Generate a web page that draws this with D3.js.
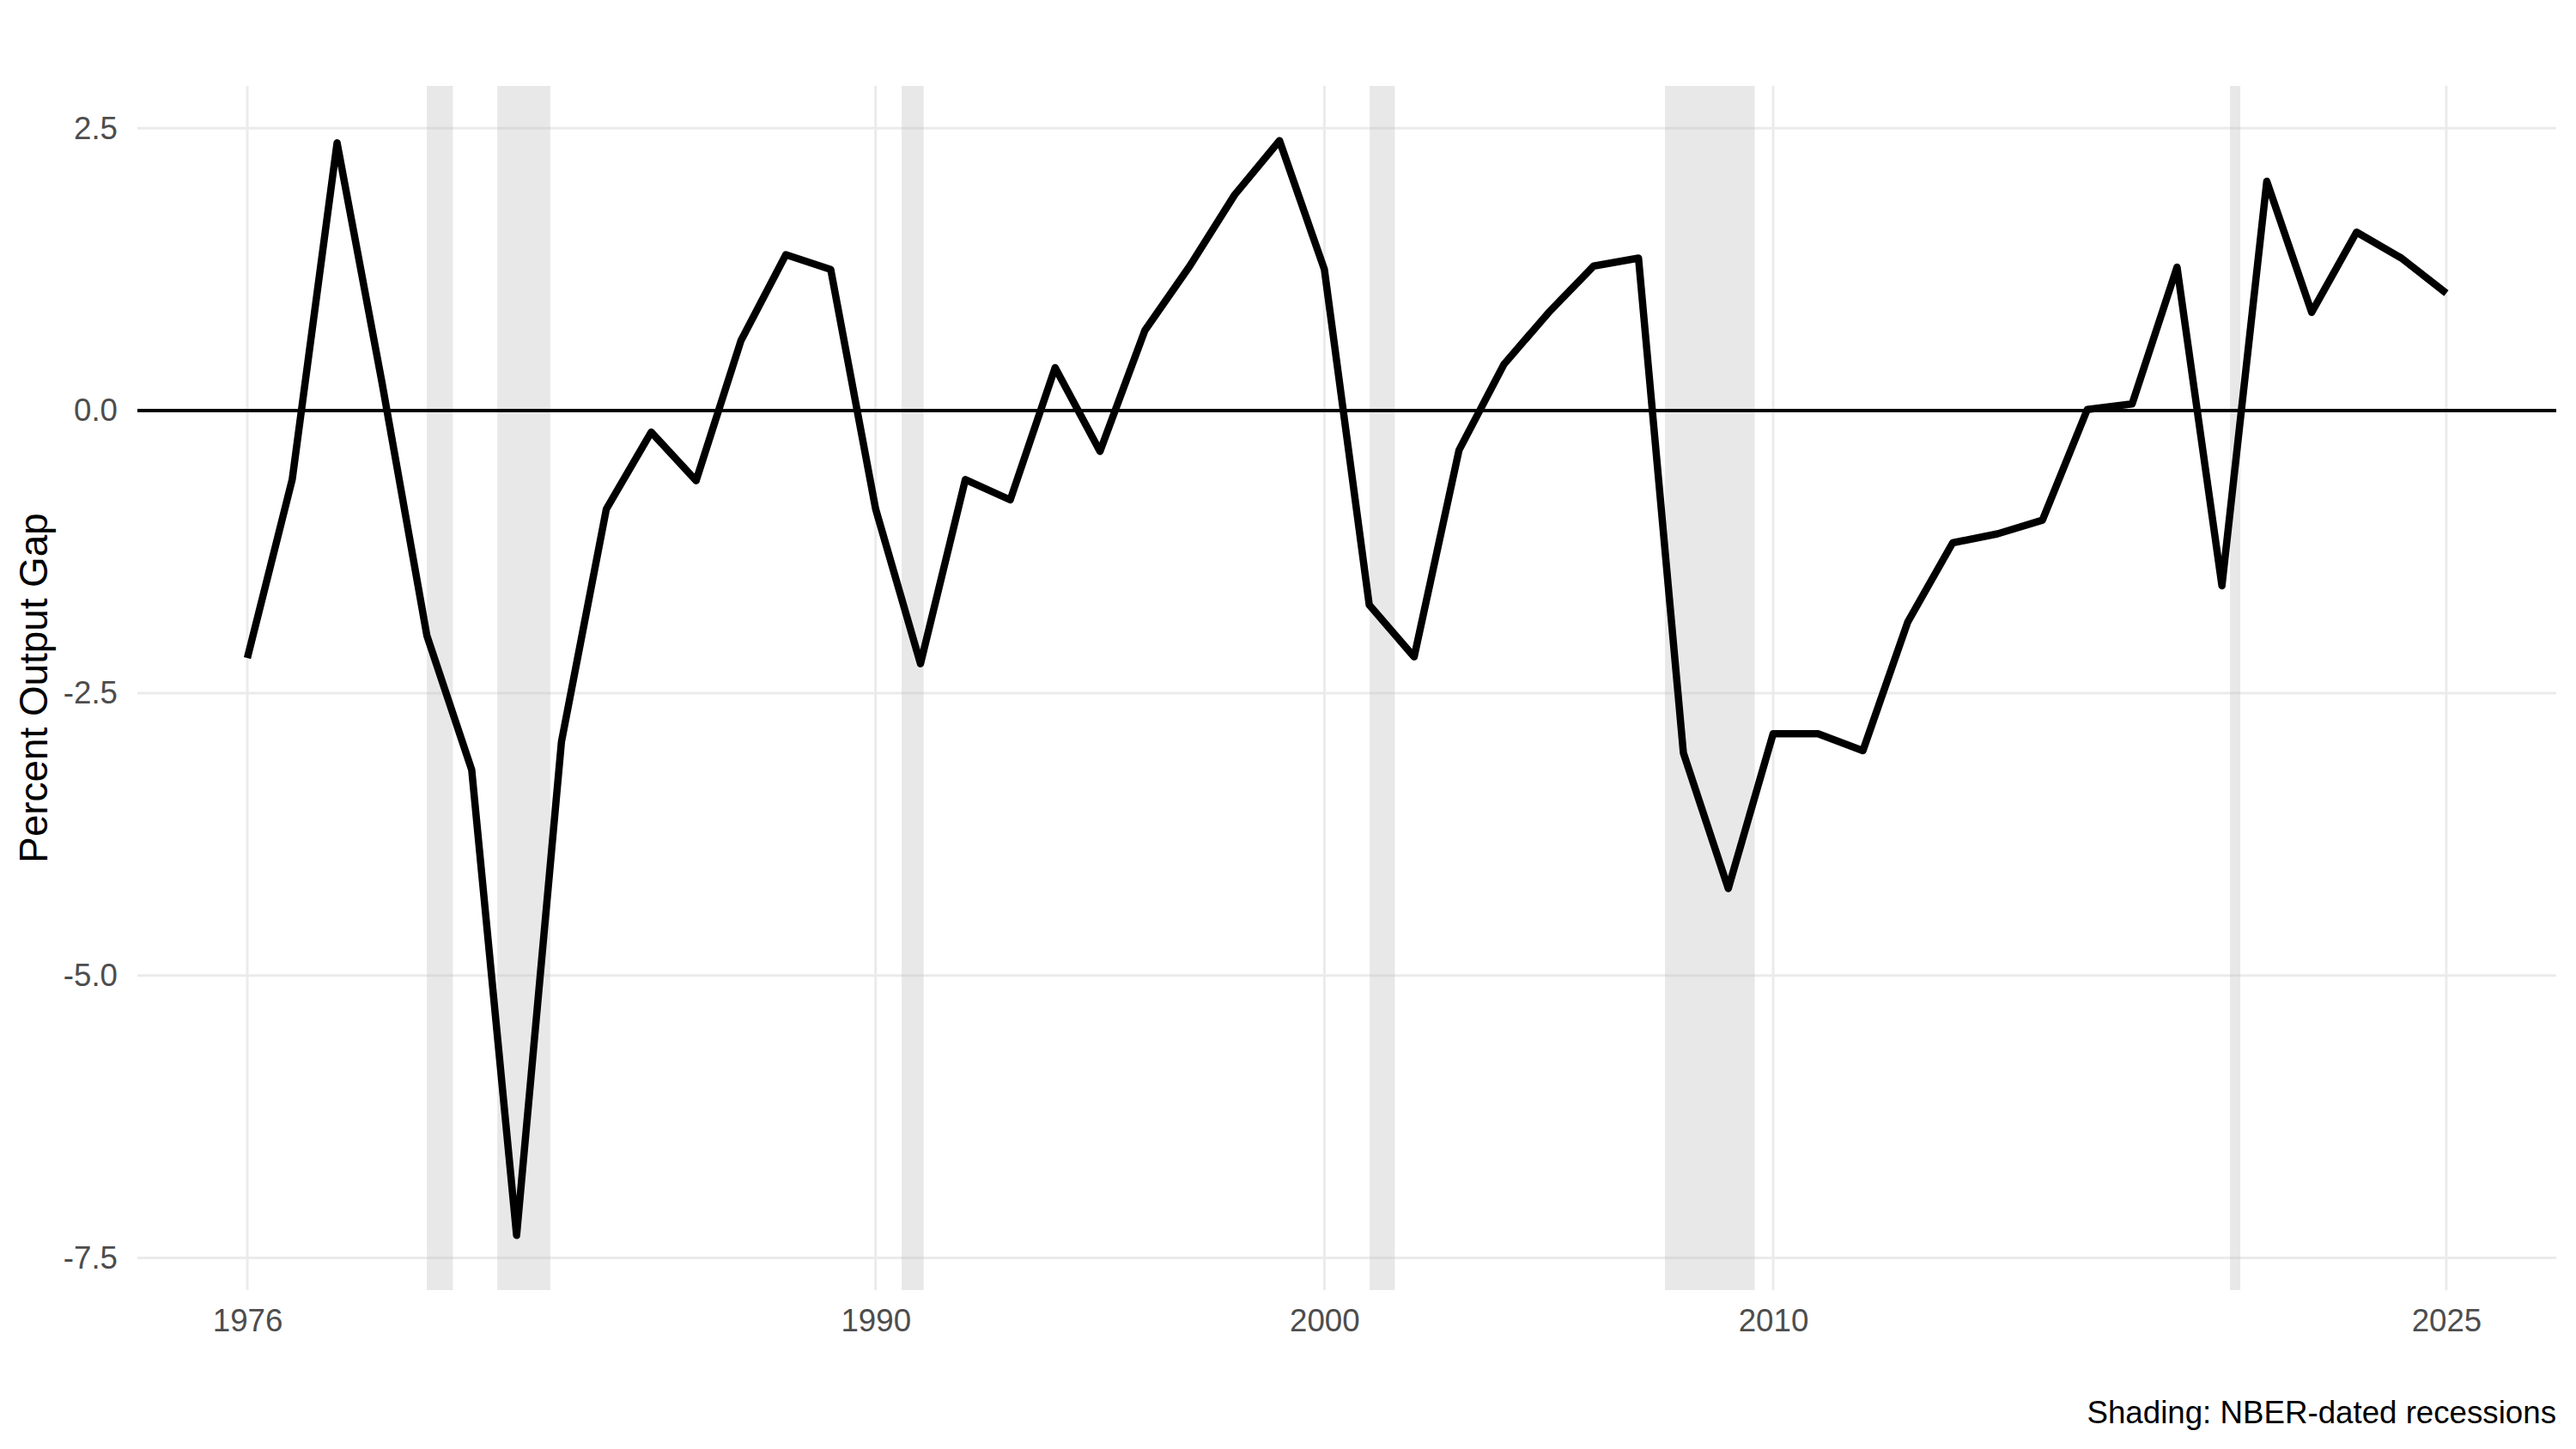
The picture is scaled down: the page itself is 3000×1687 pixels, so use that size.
<!DOCTYPE html>
<html>
<head>
<meta charset="utf-8">
<script src="https://cdn.jsdelivr.net/npm/d3@7"></script>
<style>
  body { margin: 0; background: #fff; }
  svg { display: block; font-family: "Liberation Sans", Arial, sans-serif; }
</style>
</head>
<body>
<svg id="chart"></svg>
<script>
// annual output gap, percent
const years = d3.range(1976, 2026);
const gap = [
  -2.19, -0.61, 2.37, 0.25, -1.99, -3.18, -7.30, -2.93, -0.87, -0.19,
  -0.62, 0.62, 1.38, 1.25, -0.87, -2.24, -0.61, -0.79, 0.38, -0.36,
  0.71, 1.28, 1.91, 2.39, 1.25, -1.72, -2.18, -0.35, 0.41, 0.87,
  1.28, 1.35, -3.03, -4.23, -2.86, -2.86, -3.01, -1.87, -1.17, -1.09,
  -0.97, 0.01, 0.06, 1.27, -1.55, 2.03, 0.87, 1.58, 1.35, 1.04
];

// NBER recessions, as decimal years
const recStart = [1980.0, 1981.57, 1990.58, 2001.01, 2007.59, 2020.18];
const recEnd   = [1980.58, 1982.75, 1991.07, 2001.57, 2009.59, 2020.41];

const xTicks = [1976, 1990, 2000, 2010, 2025];
const yTicks = [-7.5, -5.0, -2.5, 0.0, 2.5];

const width = 3000, height = 1687;
const margin = {top: 100, right: 23, bottom: 185, left: 160};

const svg = d3.select("#chart")
    .attr("width", width)
    .attr("height", height);

const data = years.map((y, i) => ({year: y, value: gap[i]}));

// ggplot-like 5% expansion
const expand = (ext) => {
    const pad = (ext[1] - ext[0]) * 0.05;
    return [ext[0] - pad, ext[1] + pad];
};

const x = d3.scaleLinear()
    .domain(expand(d3.extent(years)))
    .range([margin.left, width - margin.right]);

const y = d3.scaleLinear()
    .domain(expand(d3.extent(gap)))
    .range([height - margin.bottom, margin.top]);

const g = svg.append("g");

// grid
g.append("g")
    .selectAll("line")
    .data(yTicks)
    .join("line")
    .attr("x1", x.range()[0])
    .attr("x2", x.range()[1])
    .attr("y1", d => y(d))
    .attr("y2", d => y(d))
    .attr("stroke", "#EBEBEB")
    .attr("stroke-width", 3);

g.append("g")
    .selectAll("line")
    .data(xTicks)
    .join("line")
    .attr("x1", d => x(d))
    .attr("x2", d => x(d))
    .attr("y1", y.range()[0])
    .attr("y2", y.range()[1])
    .attr("stroke", "#EBEBEB")
    .attr("stroke-width", 3);

// recession shading
g.append("g")
    .selectAll("rect")
    .data(recStart.map((s, i) => [s, recEnd[i]]))
    .join("rect")
    .attr("x", d => x(d[0]))
    .attr("width", d => x(d[1]) - x(d[0]))
    .attr("y", y.range()[1])
    .attr("height", y.range()[0] - y.range()[1])
    .attr("fill", "#BEBEBE")
    .attr("fill-opacity", 0.35);

// zero line
g.append("line")
    .attr("x1", x.range()[0])
    .attr("x2", x.range()[1])
    .attr("y1", y(0))
    .attr("y2", y(0))
    .attr("stroke", "#000")
    .attr("stroke-width", 4);

const line = d3.line()
    .x(d => x(d.year))
    .y(d => y(d.value));

g.append("path")
    .datum(data)
    .attr("fill", "none")
    .attr("stroke", "#000")
    .attr("stroke-width", 8.5)
    .attr("stroke-linejoin", "round")
    .attr("d", line);

// axes text
const xAxis = d3.axisBottom(x)
    .tickValues(xTicks)
    .tickFormat(d3.format("d"))
    .tickSize(0)
    .tickPadding(22);

svg.append("g")
    .attr("transform", `translate(0,${y.range()[0]})`)
    .call(xAxis)
    .call(a => a.select(".domain").remove())
    .selectAll("text")
    .attr("font-size", 36.7)
    .attr("font-family", "Liberation Sans, Arial, sans-serif")
    .attr("fill", "#4D4D4D");

// plain hyphen for negatives, like the original
const yFmt = d => d3.format(".1f")(d).replace("\u2212", "-");

const yAxis = d3.axisLeft(y)
    .tickValues(yTicks)
    .tickFormat(yFmt)
    .tickSize(0)
    .tickPadding(23);

svg.append("g")
    .attr("transform", `translate(${margin.left},0)`)
    .call(yAxis)
    .call(a => a.select(".domain").remove())
    .selectAll("text")
    .attr("font-size", 36.7)
    .attr("font-family", "Liberation Sans, Arial, sans-serif")
    .attr("fill", "#4D4D4D");

svg.append("text")
    .attr("transform", `translate(55,${(y.range()[0] + y.range()[1]) / 2}) rotate(-90)`)
    .attr("text-anchor", "middle")
    .attr("font-size", 45.8)
    .attr("fill", "#000")
    .text("Percent Output Gap");

svg.append("text")
    .attr("x", x.range()[1])
    .attr("y", 1657)
    .attr("text-anchor", "end")
    .attr("font-size", 36.7)
    .attr("fill", "#000")
    .text("Shading: NBER-dated recessions");
</script>
</body>
</html>
